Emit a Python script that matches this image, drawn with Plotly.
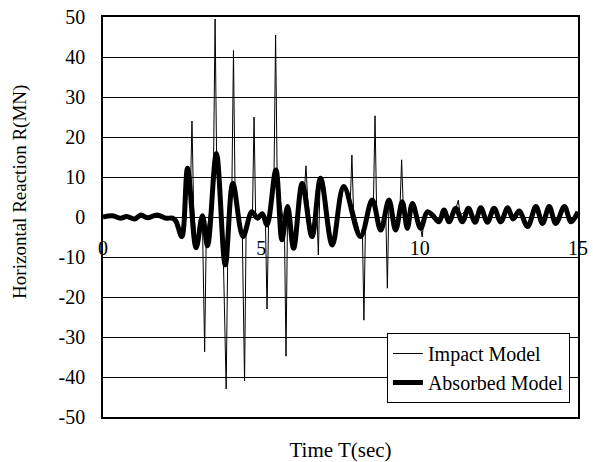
import plotly.graph_objects as go

# Absorbed Model (thick line): time (s), horizontal reaction (MN)
absorbed_t = [0.0, 0.3, 0.55, 0.75, 1.0, 1.2, 1.4, 1.7, 2.0, 2.2, 2.3, 2.49, 2.67, 2.94, 3.14, 3.30,
              3.58, 3.86, 4.10, 4.42, 4.70, 4.88, 5.03, 5.18, 5.46, 5.65, 5.83, 6.02, 6.29, 6.60,
              6.87, 7.24, 7.60, 8.13, 8.50, 8.77, 9.03, 9.24, 9.45, 9.61, 9.77, 10.03, 10.24, 10.40,
              10.61, 10.77, 10.93, 11.14, 11.35, 11.54, 11.75, 11.93, 12.14, 12.35, 12.56, 12.78,
              12.95, 13.14, 13.41, 13.67, 13.88, 14.09, 14.30, 14.57, 14.78, 15.0]
absorbed_r = [0.0, 0.3, -0.3, 0.1, -0.5, 0.5, -0.2, 0.5, -0.3, -0.3, -1.0, -4.9, 12.2, -7.7, 0.3, -7.2,
              15.9, -12.0, 8.4, -4.9, 1.3, -0.3, 0.8, -2.0, 11.75, -5.7, 2.6, -7.8, 8.4, -4.9,
              9.7, -7.0, 7.6, -4.9, 4.25, -3.25, 4.25, -3.25, 3.8, -2.8, 3.4, -2.8, 1.3, 0.5,
              -1.2, 1.75, -1.2, 2.2, -1.2, 2.2, -1.3, 2.3, -1.3, 2.2, -1.2, 2.3,
              -0.5, 1.5, -2.4, 2.6, -1.6, 2.6, -1.6, 2.6, -1.2, 1.3]

# Impact Model (thin line): time (s), horizontal reaction (MN)
impact_t = [0.0, 0.5, 1.0, 1.5, 2.0, 2.3, 2.49, 2.67, 2.76, 2.81, 2.86, 2.94, 3.14, 3.21, 3.26,
            3.40, 3.49, 3.54, 3.59, 3.80, 3.89, 3.94, 4.07, 4.12, 4.17, 4.40, 4.47, 4.52, 4.72,
            4.77, 4.82, 5.03, 5.13, 5.18, 5.23, 5.40, 5.45, 5.50, 5.73, 5.78, 5.83, 6.02, 6.29,
            6.36, 6.41, 6.46, 6.60, 6.75, 6.80, 6.85, 6.95, 7.24, 7.60, 7.81, 7.86, 7.91, 8.13,
            8.19, 8.24, 8.29, 8.50, 8.54, 8.59, 8.64, 8.77, 8.93, 8.98, 9.03, 9.24, 9.38, 9.43,
            9.48, 9.61, 9.77, 10.03, 10.08, 10.13, 10.24, 10.61, 10.77, 10.93, 11.14, 11.22,
            11.28, 11.54, 11.75, 11.93, 12.14, 12.35, 12.56, 12.78, 12.95, 13.14, 13.41, 13.67,
            13.88, 14.09, 14.30, 14.57, 14.78, 15.0]
impact_r = [0.0, -0.2, -0.4, 0.3, -0.3, -1.0, -4.5, 11.0, 6.0, 24.0, 3.0, -7.0, -1.0, -33.7, -5.0,
            3.0, 13.0, 49.5, 13.0, -10.0, -43.0, -9.0, 7.0, 41.6, 6.0, -4.5, -41.0, -3.0, 1.0,
            25.0, 0.0, 0.5, -1.5, -23.0, -1.0, 10.0, 45.5, 10.0, -3.0, -34.8, 2.0, -7.5, 8.0,
            6.5, 12.8, 5.0, -4.5, 3.0, -9.5, 7.0, 9.0, -6.8, 7.3, 4.0, 15.5, 2.0, -4.6,
            -3.0, -25.8, -1.0, 4.0, 3.5, 25.3, 2.0, -3.0, 1.0, -17.8, 4.0, -3.0, 2.5, 14.3,
            3.0, -2.6, 3.2, -2.6, -5.0, -1.0, 1.2, -1.1, 1.6, -1.1, 2.0, 4.2,
            0.5, 2.0, -1.2, 2.1, -1.2, 2.0, -1.1, 2.1, -0.5, 1.4, -2.2, 2.4,
            -1.5, 2.4, -1.5, 2.4, -1.1, 1.2]

x_ticks = [0, 5, 10, 15]
y_ticks = [-50, -40, -30, -20, -10, 0, 10, 20, 30, 40, 50]

FONT = "Liberation Serif"

fig = go.Figure()
fig.add_trace(go.Scatter(x=absorbed_t, y=absorbed_r, mode="lines", name="Absorbed Model",
                         line=dict(color="black", width=5, shape="spline", smoothing=1.0),
                         legendrank=2))
fig.add_trace(go.Scatter(x=impact_t, y=impact_r, mode="lines", name="Impact Model",
                         line=dict(color="black", width=1), legendrank=1))
# carrier for the x tick labels drawn on the zero line
fig.add_trace(go.Scatter(x=[x_ticks[0], x_ticks[-1]], y=[None, None], mode="lines",
                         xaxis="x2", yaxis="y", showlegend=False, hoverinfo="skip"))

fig.update_layout(
    width=593, height=462,
    margin=dict(l=103, r=15, t=17, b=45, autoexpand=False),
    paper_bgcolor="white", plot_bgcolor="white",
    font=dict(family=FONT, size=19, color="black"),
    showlegend=True,
    legend=dict(x=0.983, xanchor="right", y=0.035, yanchor="bottom",
                bgcolor="white", bordercolor="black", borderwidth=1,
                font=dict(family=FONT, size=20, color="black"),
                tracegroupgap=0, itemwidth=30,
                entrywidth=200, entrywidthmode="pixels"),
    xaxis=dict(range=[0, 15], showticklabels=False, showgrid=False, zeroline=False,
               showline=True, linecolor="black", linewidth=1.5, mirror=True, ticks="",
               automargin=False,
               title=dict(text="Time T(sec)", font=dict(family=FONT, size=21), standoff=25)),
    xaxis2=dict(range=[0, 15], overlaying="x", anchor="free", position=0.5, side="bottom",
                tickvals=x_ticks, ticktext=[str(v) for v in x_ticks],
                ticks="outside", ticklen=13, tickcolor="rgba(0,0,0,0)",
                showline=False, showgrid=False, zeroline=False, automargin=False,
                tickfont=dict(family=FONT, size=20, color="black")),
    yaxis=dict(range=[-50, 50], tickvals=y_ticks, ticktext=[str(v) for v in y_ticks],
               showgrid=True, gridcolor="black", gridwidth=1, zeroline=False,
               showline=True, linecolor="black", linewidth=1.5, mirror=True,
               ticks="outside", ticklen=12, tickcolor="rgba(0,0,0,0)", automargin=False,
               tickfont=dict(family=FONT, size=20, color="black")),
    annotations=[dict(text="Horizontal Reaction R(MN)", textangle=-90,
                      xref="paper", yref="paper", x=-0.175, y=0.5625,
                      xanchor="center", yanchor="middle", showarrow=False,
                      font=dict(family=FONT, size=19, color="black"))],
)

# remove the page's default body margin so the figure sits at the window's top-left corner
fig.write_html("out.html", config={"displayModeBar": False},
               post_script="document.body.style.margin='0';")
